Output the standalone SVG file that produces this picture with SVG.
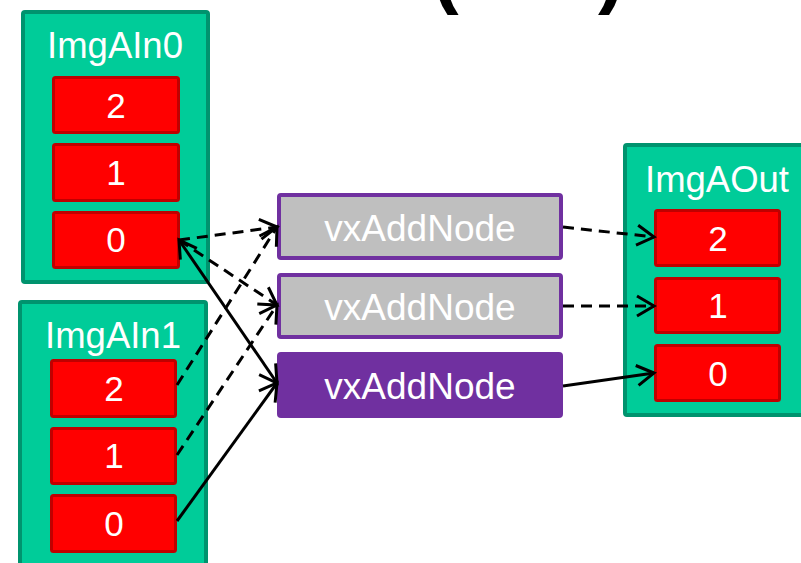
<svg xmlns="http://www.w3.org/2000/svg" width="801" height="563" viewBox="0 0 801 563">
<defs>
<style>
.img{fill:#00CC99;stroke:#00936E;stroke-width:4}
.cell{fill:#FF0000;stroke:#C00000;stroke-width:3}
.t{font-family:"Liberation Sans",Arial,sans-serif;fill:#FFFFFF;text-anchor:middle}
.title{font-size:36.5px}
.num{font-size:35px}
.nodeg{fill:#BFBFBF;stroke:#7030A0;stroke-width:4}
.nodep{fill:#7030A0;stroke:#7030A0;stroke-width:4}
.nt{font-size:37px}
.c{fill:none;stroke:#000;stroke-width:3}
.d{stroke-dasharray:11 7}
.paren{font-family:"Liberation Sans",Arial,sans-serif;font-weight:bold;font-size:80px;fill:#000}
</style>
<marker id="ah" markerUnits="userSpaceOnUse" markerWidth="32" markerHeight="32" viewBox="-22 -16 27 32" refX="0" refY="0" orient="auto-start-reverse">
<path d="M -17 -10 L 0 0 L -17 10" fill="none" stroke="#000" stroke-width="3"/>
</marker>
</defs>
<rect width="801" height="563" fill="#FFFFFF"/>
<g id="title-parens">
<text class="paren" x="432" y="-2">(</text>
<text class="paren" x="598" y="-2">)</text>
</g>
<g id="ImgAIn0">
<rect class="img" x="23" y="12" width="185" height="270" rx="2"/>
<text class="t title" x="115" y="58">ImgAIn0</text>
<rect class="cell" x="53.5" y="77.5" width="125" height="55" rx="2"/>
<text class="t num" x="116" y="118">2</text>
<rect class="cell" x="53.5" y="144.5" width="125" height="56" rx="2"/>
<text class="t num" x="116" y="185">1</text>
<rect class="cell" x="53.5" y="212.5" width="125" height="55" rx="2"/>
<text class="t num" x="116" y="252">0</text>
</g>
<g id="ImgAIn1">
<rect class="img" x="20" y="302" width="186" height="280" rx="2"/>
<text class="t title" x="113" y="348">ImgAIn1</text>
<rect class="cell" x="51.5" y="360.5" width="124" height="56" rx="2"/>
<text class="t num" x="114" y="401">2</text>
<rect class="cell" x="51.5" y="428.5" width="124" height="55" rx="2"/>
<text class="t num" x="114" y="468">1</text>
<rect class="cell" x="51.5" y="495.5" width="124" height="56" rx="2"/>
<text class="t num" x="114" y="536">0</text>
</g>
<g id="node1">
<rect class="nodeg" x="279" y="195" width="282" height="63" rx="2"/>
<text class="t nt" x="420" y="241">vxAddNode</text>
</g>
<g id="node2">
<rect class="nodeg" x="279" y="275" width="282" height="62" rx="2"/>
<text class="t nt" x="420" y="320">vxAddNode</text>
</g>
<g id="node3">
<rect class="nodep" x="279" y="354" width="282" height="62" rx="2"/>
<text class="t nt" x="420" y="399">vxAddNode</text>
</g>
<g id="ImgAOut">
<rect class="img" x="625" y="145" width="185" height="270" rx="2"/>
<text class="t title" x="717" y="192">ImgAOut</text>
<rect class="cell" x="655.5" y="210.5" width="124" height="55" rx="2"/>
<text class="t num" x="718" y="251">2</text>
<rect class="cell" x="655.5" y="278.5" width="124" height="54" rx="2"/>
<text class="t num" x="718" y="318">1</text>
<rect class="cell" x="655.5" y="345.5" width="124" height="55" rx="2"/>
<text class="t num" x="718" y="386">0</text>
</g>
<g id="connectors">
<line class="c d" x1="179" y1="240" x2="277" y2="227" marker-end="url(#ah)"/>
<line class="c d" x1="179" y1="240" x2="277" y2="305" marker-end="url(#ah)"/>
<line class="c" x1="179" y1="240" x2="277" y2="383" marker-start="url(#ah)" marker-end="url(#ah)"/>
<line class="c d" x1="177" y1="385" x2="277" y2="227" marker-end="url(#ah)"/>
<line class="c d" x1="177" y1="455" x2="277" y2="305" marker-end="url(#ah)"/>
<line class="c" x1="177" y1="521" x2="277" y2="383" marker-end="url(#ah)"/>
<line class="c d" x1="563" y1="227" x2="654" y2="237" marker-end="url(#ah)"/>
<line class="c d" x1="563" y1="306" x2="654" y2="306" marker-end="url(#ah)"/>
<line class="c" x1="563" y1="386" x2="654" y2="373" marker-end="url(#ah)"/>
</g>
</svg>
